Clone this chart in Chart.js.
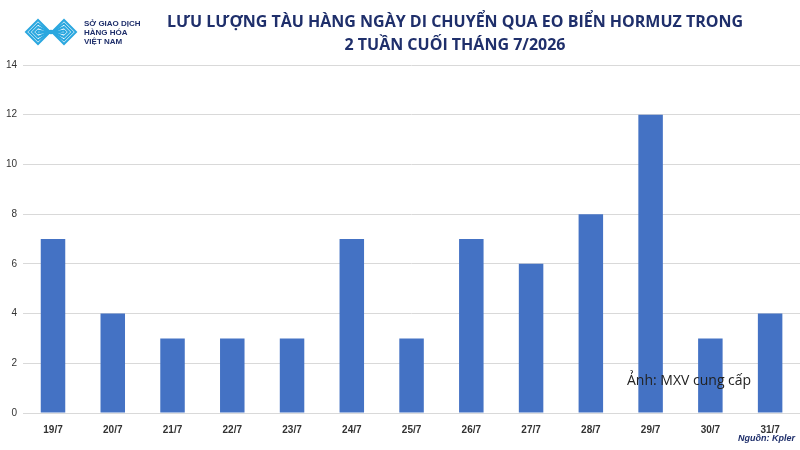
<!DOCTYPE html>
<html>
<head>
<meta charset="utf-8">
<script src="https://cdn.jsdelivr.net/npm/chart.js@4"></script>
<style>
  body { margin: 0; background: #fff; }
  #wrap { width: 800px; height: 450px; position: relative; }
</style>
</head>
<body>
<div id="wrap"><canvas id="chart"></canvas></div>
<script>
var days = ['19/7', '20/7', '21/7', '22/7', '23/7', '24/7', '25/7', '26/7', '27/7', '28/7', '29/7', '30/7', '31/7']
var ships = [7, 4, 3, 3, 3, 7, 3, 7, 6, 8, 12, 3, 4]
var yTicks = [0, 2, 4, 6, 8, 10, 12, 14]

// title, logo, notes drawn over the canvas
var extras = {
  id: 'extras',
  afterDraw: function (chart) {
    var c = chart.ctx
    c.save()
    c.fillStyle = '#1f2f6b'
    c.font = 'bold 16px "Open Sans", sans-serif'
    c.textAlign = 'center'
    c.textBaseline = 'middle'
    c.fillText('LƯU LƯỢNG TÀU HÀNG NGÀY DI CHUYỂN QUA EO BIỂN HORMUZ TRONG', 455, 22)
    c.fillText('2 TUẦN CUỐI THÁNG 7/2026', 455, 45)

    // logo mark: nested zigzags
    c.strokeStyle = '#2aa7df'
    c.lineWidth = 2
    for (var i = 0; i < 4; i++) {
      var d = i * 3.5
      c.beginPath()
      c.moveTo(26 + d, 32)
      c.lineTo(38, 20 + d)
      c.lineTo(51, 33)
      c.lineTo(64, 20 + d)
      c.lineTo(76 - d, 32)
      c.lineTo(64, 44 - d)
      c.lineTo(51, 31)
      c.lineTo(38, 44 - d)
      c.closePath()
      c.stroke()
    }
    c.fillStyle = '#1f2f6b'
    c.textAlign = 'left'
    c.font = 'bold 8px "Liberation Sans Narrow", "Liberation Sans", sans-serif'
    c.fillText('SỞ GIAO DỊCH', 84, 24)
    c.fillText('HÀNG HÓA', 84, 33)
    c.fillText('VIỆT NAM', 84, 42)

    c.fillStyle = '#222'
    c.font = '14px "Open Sans", sans-serif'
    c.fillText('Ảnh: MXV cung cấp', 627, 381)

    c.fillStyle = '#1f2f6b'
    c.textAlign = 'right'
    c.font = 'italic bold 9px "Liberation Sans", sans-serif'
    c.fillText('Nguồn: Kpler', 795, 439)
    c.restore()
  }
}

new Chart(document.getElementById('chart'), {
  type: 'bar',
  data: {
    labels: days,
    datasets: [{
      data: ships,
      backgroundColor: '#4472c4',
      categoryPercentage: 1,
      barPercentage: 0.41
    }]
  },
  options: {
    responsive: true,
    maintainAspectRatio: false,
    animation: false,
    layout: { padding: { top: 65, right: 0, bottom: 11, left: 0 } },
    plugins: { legend: { display: false }, tooltip: { enabled: false } },
    scales: {
      x: {
        grid: { display: false },
        border: { color: '#d9d9d9' },
        ticks: { color: '#333', font: { size: 10, weight: 'bold', family: '"Liberation Sans", sans-serif' } }
      },
      y: {
        min: 0,
        max: 14,
        afterBuildTicks: function (axis) { axis.ticks = yTicks.map(function (v) { return { value: v } }) },
        grid: { color: '#d9d9d9', drawTicks: false },
        border: { display: false },
        ticks: { padding: 6, color: '#333', font: { size: 10, family: '"Liberation Sans", sans-serif' } }
      }
    }
  },
  plugins: [extras]
})
</script>
</body>
</html>
